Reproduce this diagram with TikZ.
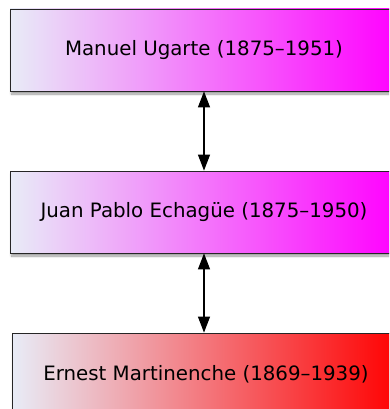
\documentclass[tikz,border=0pt]{standalone}
\usepackage{fontspec}
\setmainfont{DejaVu Sans}
\usetikzlibrary{shadows.blur,arrows.meta}
\definecolor{pale}{RGB}{232,236,247}
\definecolor{mag}{RGB}{255,0,255}
\definecolor{redd}{RGB}{255,0,0}
\begin{document}
\begin{tikzpicture}[x=1pt,y=-1pt,
  person/.style={draw=black!85, line width=0.8pt, minimum width=388pt, minimum height=82pt,
    inner sep=0pt, font=\fontsize{19.8}{23}\selectfont,
    blur shadow={shadow xshift=1.5pt, shadow yshift=-3pt, shadow blur steps=6, shadow opacity=40}},
  link/.style={line width=1.2pt, {Triangle[width=12pt,length=16pt]}-{Triangle[width=12pt,length=16pt]}}]
\useasboundingbox (0,0) rectangle (389,409);
\clip (0,0) rectangle (389,409);
\node[person, left color=pale, right color=mag] (ugarte) at (204,50) {Manuel Ugarte (1875–1951)};
\node[person, left color=pale, right color=mag] (echague) at (204,212) {Juan Pablo Echagüe (1875–1950)};
\node[person, left color=pale, right color=redd] (martinenche) at (206,374) {Ernest Martinenche (1869–1939)};
\draw[link] (ugarte.south -| 204,0) -- (echague.north -| 204,0);
\draw[link] (echague.south -| 204,0) -- (martinenche.north -| 204,0);
\end{tikzpicture}
\end{document}
